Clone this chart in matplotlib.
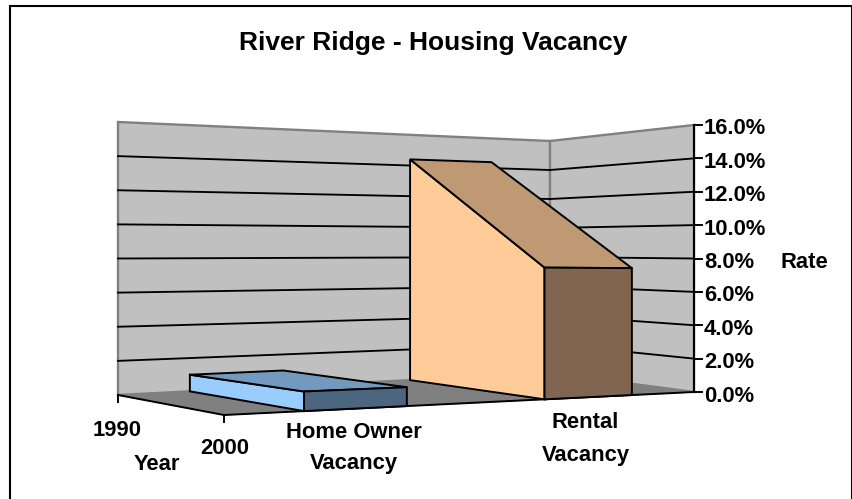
"""River Ridge housing vacancy, drawn as an old spreadsheet style 3-D chart."""

import matplotlib

matplotlib.use("Agg")

import matplotlib.pyplot as plt
import numpy as np
from matplotlib.patches import Polygon


TITLE = "River Ridge - Housing Vacancy"
YEARS = ["1990", "2000"]
CATEGORIES = [["Home Owner", "Vacancy"], ["Rental", "Vacancy"]]
VALUE_TICKS = [0, 2, 4, 6, 8, 10, 12, 14, 16]

# percent for each category, 1990 then 2000
HOME_OWNER = [1.0, 1.0]
RENTAL = [14.4, 7.4]

# floor corners in pixels, named by (category axis, depth axis)
FLOOR_FRONT = np.array([224.0, 415.0])
FLOOR_RIGHT = np.array([694.0, 392.0])
FLOOR_BACK = np.array([550.0, 373.0])
FLOOR_LEFT = np.array([118.0, 395.0])
# pixel height of the full value axis at the three visible wall corners
HEIGHT_LEFT = 273.0
HEIGHT_RIGHT = 267.0
HEIGHT_BACK = 232.0
VALUE_MAX = 16.0

W_LEFT = 1.0 / HEIGHT_LEFT
W_RIGHT = 1.0 / HEIGHT_RIGHT
W_BACK = 1.0 / HEIGHT_BACK
W_FRONT = W_LEFT + W_RIGHT - W_BACK

BAR_WIDTHS = [0.2, 0.205]
BAR_CENTERS = [0.245, 0.742]

LABEL_SIZE = 15.8
LABEL_STYLE = {"ha": "center", "va": "center", "fontsize": LABEL_SIZE, "fontweight": "bold"}


def project(u, v, value=0.0):
    """Map category position u, depth v (1 = 1990 wall) and value to pixels."""
    w_front = (1 - u) * (1 - v) * W_FRONT
    w_right = u * (1 - v) * W_RIGHT
    w_back = u * v * W_BACK
    w_left = (1 - u) * v * W_LEFT
    w = w_front + w_right + w_back + w_left
    point = (
        w_front * FLOOR_FRONT
        + w_right * FLOOR_RIGHT
        + w_back * FLOOR_BACK
        + w_left * FLOOR_LEFT
    ) / w
    # on screen the height shrinks with distance
    point[1] -= value / VALUE_MAX / w
    return point


def face(ax, corners, color):
    """Draw one outlined face of a bar."""
    points = [project(*corner) for corner in corners]
    ax.add_patch(Polygon(points, closed=True, facecolor=color, edgecolor="black",
                         linewidth=1.4, joinstyle="miter", zorder=5))


def draw_bar(ax, center, width, values, side_color, top_color, front_color):
    """Draw one ribbon running from the 1990 wall to the front of the floor."""
    left = center - width / 2
    right = center + width / 2
    back_value, front_value = values
    face(ax, [(left, 1, 0), (left, 0, 0), (left, 0, front_value), (left, 1, back_value)],
         side_color)
    face(ax, [(left, 1, back_value), (right, 1, back_value), (right, 0, front_value),
              (left, 0, front_value)], top_color)
    face(ax, [(left, 0, 0), (right, 0, 0), (right, 0, front_value), (left, 0, front_value)],
         front_color)


def draw_walls(ax):
    """Draw the two back walls, their gridlines and the floor."""
    left_wall = [(0, 1, 0), (1, 1, 0), (1, 1, VALUE_MAX), (0, 1, VALUE_MAX)]
    right_wall = [(1, 1, 0), (1, 0, 0), (1, 0, VALUE_MAX), (1, 1, VALUE_MAX)]
    floor = [(0, 0, 0), (1, 0, 0), (1, 1, 0), (0, 1, 0)]
    for wall in (left_wall, right_wall):
        ax.add_patch(Polygon([project(*c) for c in wall], closed=True, facecolor="#c0c0c0",
                             edgecolor="#808080", linewidth=1.7, zorder=1))

    for tick in VALUE_TICKS[1:-1]:
        path = np.array([project(0, 1, tick), project(1, 1, tick), project(1, 0, tick)])
        ax.plot(path[:, 0], path[:, 1], color="black", linewidth=1.35, zorder=2)

    ax.add_patch(Polygon([project(*c) for c in floor], closed=True, facecolor="#808080",
                         edgecolor="#808080", linewidth=0.8, zorder=3))


def draw_axes(ax):
    """Draw the value axis, the depth axis and all their labels."""
    bottom = project(1, 0, 0)
    top = project(1, 0, VALUE_MAX)
    ax.plot([bottom[0], top[0]], [bottom[1], top[1]], color="black", linewidth=1.5, zorder=4)
    for tick in VALUE_TICKS:
        x, y = project(1, 0, tick)
        ax.plot([x, x + 8], [y, y], color="black", linewidth=1.4, zorder=4)
        ax.text(x + 10, y + 4, f"{tick:.1f}%", ha="left", va="center", fontsize=LABEL_SIZE,
                fontweight="bold")

    edge = np.array([project(0, 1), project(0, 0), project(1, 0)])
    ax.plot(edge[:, 0], edge[:, 1], color="black", linewidth=1.4, zorder=4)
    for v in (0, 1):
        x, y = project(0, v)
        ax.plot([x, x], [y, y + 7], color="black", linewidth=1.4, zorder=4)

    ax.text(117, 431, YEARS[0], **LABEL_STYLE)
    ax.text(224.5, 449, YEARS[1], **LABEL_STYLE)
    ax.text(157, 465, "Year", **LABEL_STYLE)
    ax.text(804.5, 262, "Rate", **LABEL_STYLE)
    for line, y in zip(CATEGORIES[0], (433, 464)):
        ax.text(353.5, y, line, **LABEL_STYLE)
    for line, y in zip(CATEGORIES[1], (423, 455)):
        ax.text(585.5, y, line, **LABEL_STYLE)


def main():
    plt.rcParams["font.family"] = ["Liberation Sans", "DejaVu Sans"]
    fig = plt.figure(figsize=(8.53, 4.99), dpi=100)
    ax = fig.add_axes([0, 0, 1, 1])
    ax.set_xlim(0, 853)
    ax.set_ylim(499, 0)
    ax.axis("off")

    # the frame runs off the bottom of the picture
    ax.plot([10, 10, 852, 852], [510, 6, 6, 510], color="black", linewidth=1.5,
            solid_joinstyle="miter")
    ax.text(433, 42.5, TITLE, ha="center", va="center", fontsize=19, fontweight="bold")

    draw_walls(ax)
    draw_axes(ax)
    draw_bar(ax, BAR_CENTERS[0], BAR_WIDTHS[0], HOME_OWNER, "#99ccff", "#7399bf", "#4d6680")
    draw_bar(ax, BAR_CENTERS[1], BAR_WIDTHS[1], RENTAL, "#ffcc99", "#bf9973", "#806650")

    fig.savefig("out.png", dpi=100)
    plt.close(fig)


if __name__ == "__main__":
    main()
